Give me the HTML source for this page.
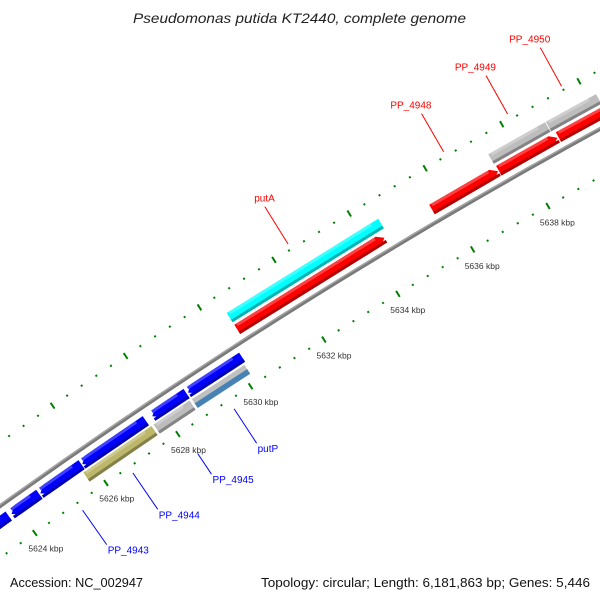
<!DOCTYPE html>
<html><head><meta charset="utf-8"><style>
body{margin:0;background:#fff;}
svg{display:block;font-family:"Liberation Sans",sans-serif;}
</style></head><body>
<svg id="map" width="600" height="600" viewBox="0 0 600 600" xmlns="http://www.w3.org/2000/svg">
<rect width="600" height="600" fill="#fff"/>
<text x="133" y="23" textLength="333" lengthAdjust="spacingAndGlyphs" font-size="14" font-style="italic" fill="#222">Pseudomonas putida KT2440, complete genome</text>
<text x="10" y="587" textLength="133" lengthAdjust="spacingAndGlyphs" font-size="13" fill="#111">Accession: NC_002947</text>
<text x="261" y="587" textLength="329" lengthAdjust="spacingAndGlyphs" font-size="13" fill="#111">Topology: circular; Length: 6,181,863 bp; Genes: 5,446</text>
<g id="ticks"></g><g id="genes"></g><g id="labels"></g>
</svg>
<script>
// ---- data ----
const geneNames = ["putA-feature","putA","PP_4948","PP_4949-fwd","PP_4950-fwd","PP_4949","PP_4950","blue-1","blue-2","blue-3","blue-4","blue-5","blue-6","PP_4944","PP_4945","putP-gray","putP"];
const geneStarts = [5630.45,5630.45,5635.66,5637.42,5638.98,5637.4,5638.9,5628.72,5627.74,5625.8,5624.63,5623.82,5622.5,5625.71,5627.66,5628.71,5628.71];
const geneEnds   = [5634.5,5634.4,5637.4,5638.95,5641.0,5638.88,5640.2,5630.2,5628.68,5627.56,5625.78,5624.6,5623.74,5627.6,5628.65,5630.15,5630.15];
const geneSlots  = [69,55,55,55,55,69,69,29,29,29,29,29,29,16,16,18.5,13.5];
const geneWidths = [11,11,11,11,11,11,11,11,11,11,11,11,11,11,11,5.5,5.5];
const geneArrows = [0,1,1,1,1,0,0,-1,-1,-1,-1,-1,-1,0,0,0,0];
const geneColors = ["#00ffff","#ff0000","#ff0000","#ff0000","#ff0000","#bdbdbd","#bdbdbd","#0000ff","#0000ff","#0000ff","#0000ff","#0000ff","#0000ff","#bdb76b","#bdbdbd","#c0c0c0","#4682b4"];
const tickValues = [5622,5624,5626,5628,5630,5632,5634,5636,5638,5640];
const tickLabels = ["5622 kbp","5624 kbp","5626 kbp","5628 kbp","5630 kbp","5632 kbp","5634 kbp","5636 kbp","5638 kbp","5640 kbp"];
const calloutText  = ["putA","PP_4948","PP_4949","PP_4950","putP","PP_4945","PP_4944","PP_4943"];
const calloutPos   = [5632.46,5636.55,5638.23,5639.6,5629.4,5628.13,5626.64,5625.2];
const calloutColor = ["#ff0000","#ff0000","#ff0000","#ff0000","#0000ff","#0000ff","#0000ff","#0000ff"];
const calloutFrom  = [100,99,100,98,-10,-27,-7,-9];
const calloutTo    = [144,143,144,142,-51,-52,-51,-51];

// ---- axis ----
const P1={x:106,y:483,k:5626}, P2={x:548,y:206,k:5638}, R=5800;
const mx=(P1.x+P2.x)/2, my=(P1.y+P2.y)/2;
const dx=P2.x-P1.x, dy=P2.y-P1.y, L=Math.hypot(dx,dy);
const h=Math.sqrt(R*R-(L/2)*(L/2));
const nx=-dy/L, ny=dx/L;
const cx=mx+nx*h, cy=my+ny*h;
const a1=Math.atan2(P1.y-cy,P1.x-cx), a2=Math.atan2(P2.y-cy,P2.x-cx);
function pt(k,r){const a=a1+(k-P1.k)*(a2-a1)/(P2.k-P1.k);return [cx+(R+r)*Math.cos(a),cy+(R+r)*Math.sin(a)];}
const NS="http://www.w3.org/2000/svg";
function mk(tag,attrs,parent){const e=document.createElementNS(NS,tag);for(const k in attrs)e.setAttribute(k,attrs[k]);parent.appendChild(e);return e;}
const gT=document.getElementById('ticks'),gG=document.getElementById('genes'),gL=document.getElementById('labels');

{let d="";for(let k=5620;k<=5642;k+=0.5){const p=pt(k,42);d+=(d?"L":"M")+p[0].toFixed(1)+","+p[1].toFixed(1);}
const b=mk('path',{d:d,stroke:"#7a7a7a","stroke-width":4,fill:"none"},gT);


const b2=mk('path',{d:d,stroke:"#a8a8a8","stroke-width":1.2,fill:"none",transform:"translate(-0.6,-1)"},gT);

}

for(let i=0;i<=60;i++){const k=5621.2+i*0.4;const major=Math.abs(k/2-Math.round(k/2))<0.01;
 [0,94].forEach(r=>{const len=major?3.5:1;const p=pt(k,r-len),q=pt(k,r+len);
  const t=mk('line',{x1:p[0],y1:p[1],x2:q[0],y2:q[1],stroke:"#008000","stroke-width":2},gT);
  
  });}
tickValues.forEach((k,i)=>{const p=pt(k,-19);
 const t=mk('text',{x:p[0].toFixed(1),y:(p[1]+3).toFixed(1),"text-anchor":"middle","font-size":"8.5",fill:"#333"},gL);
 t.textContent=tickLabels[i];
 
 });

function band(s,e,r0,r1,arrow){const hl=0.16;const pts=[];
 let s2=s,e2=e;if(arrow===1)e2=e-hl;if(arrow===-1)s2=s+hl;
 const rm=(r0+r1)/2;
 pts.push(pt(s2,r0),pt(e2,r0));if(arrow===1)pts.push(pt(e,rm));pts.push(pt(e2,r1),pt(s2,r1));if(arrow===-1)pts.push(pt(s,rm));
 return pts.map(p=>p[0].toFixed(1)+","+p[1].toFixed(1)).join(" ");}
function shade(c,f){const n=parseInt(c.slice(1),16);let r=n>>16,g=(n>>8)&255,b=n&255;
 if(f<0){r*=1+f;g*=1+f;b*=1+f;}else{r+=(255-r)*f;g+=(255-g)*f;b+=(255-b)*f;}
 return "rgb("+Math.round(r)+","+Math.round(g)+","+Math.round(b)+")";}
geneNames.forEach((nm,i)=>{const r=geneSlots[i],w=geneWidths[i];
 const g=mk('g',{},gG);
 
 
 mk('polygon',{points:band(geneStarts[i],geneEnds[i],r-w/2,r+w/2,geneArrows[i]),fill:geneColors[i]},g);
 if(w>6){mk('polygon',{points:band(geneStarts[i],geneEnds[i],r-w/2,r-w/2+3,0),fill:shade(geneColors[i],-0.3)},g);
 mk('polygon',{points:band(geneStarts[i]+0.05,geneEnds[i]-0.2,r+w/2-3,r+w/2,0),fill:shade(geneColors[i],0.25)},g);}});

calloutText.forEach((tx,i)=>{const out=calloutTo[i]>0;
 const a=pt(calloutPos[i],calloutFrom[i]), b=pt(calloutPos[i],calloutTo[i]);
 const ln=mk('line',{x1:a[0],y1:a[1],x2:b[0],y2:b[1],stroke:calloutColor[i],"stroke-width":1},gL);
 
 
 const t=mk('text',{x:(b[0]+(out?10:1)).toFixed(1),y:(b[1]+(out?-5:9)).toFixed(1),"text-anchor":out?"end":"start","font-size":"10",fill:calloutColor[i]},gL);
 t.textContent=tx;
 
 });
</script>
</body></html>
